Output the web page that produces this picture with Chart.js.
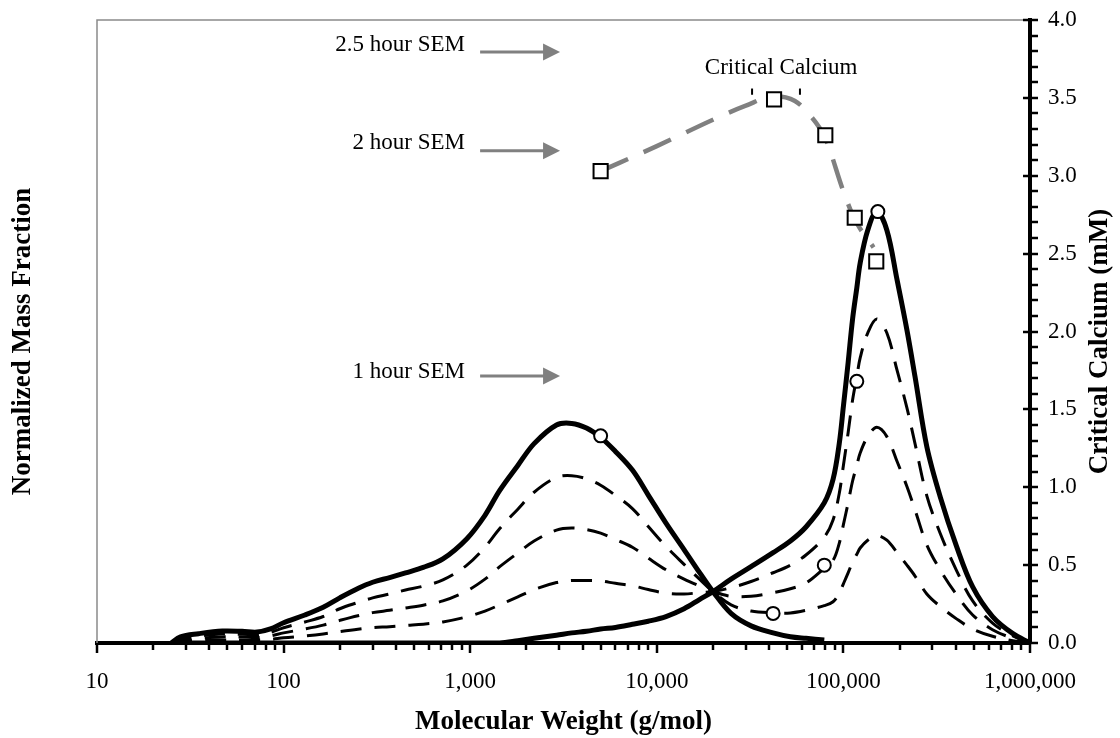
<!DOCTYPE html>
<html>
<head>
<meta charset="utf-8">
<script src="https://cdn.jsdelivr.net/npm/chart.js@4.4.1/dist/chart.umd.min.js"></script>
<style>
  html, body { margin: 0; padding: 0; background: #fff; }
  #wrap { width: 1120px; height: 738px; position: relative; }
</style>
</head>
<body>
<div id="wrap"><canvas id="chart"></canvas></div>
<script>
// molecular weight grid (g/mol)
const mw = [25, 28, 35, 47, 60, 72, 85, 100, 130, 163, 200, 250, 300, 370, 450, 560, 714, 960, 1200, 1440,
  1800, 2200, 2900, 3500, 4200, 5000, 6000, 7400, 9000, 11200, 14000, 17000, 20000, 25000, 32000, 42000,
  52000, 63000, 79000, 88000, 95000, 100000, 106000, 112000, 118000, 123000, 135000, 151000, 171000,
  194000, 219000, 242000, 280000, 330000, 404000, 493000, 630000, 810000, 1000000];

// normalized mass fraction - starting distribution (solid, low MW peak)
const massStart = [0, 0.04, 0.06, 0.077, 0.075, 0.07, 0.09, 0.13, 0.18, 0.23, 0.29, 0.35, 0.39, 0.42, 0.45, 0.485, 0.54, 0.67, 0.82, 0.98,
  1.14, 1.28, 1.40, 1.41, 1.38, 1.32, 1.23, 1.11, 0.95, 0.77, 0.60, 0.45, 0.33, 0.19, 0.11, 0.065,
  0.04, 0.03, 0.02, null, null, null, null, null, null, null, null, null, null,
  null, null, null, null, null, null, null, null, null, null];

// final distribution (solid, high MW peak)
const massEnd = [0, 0, 0, 0, 0, 0, 0, 0, 0, 0, 0, 0, 0, 0, 0, 0, 0, 0, 0, 0,
  0.015, 0.03, 0.05, 0.065, 0.075, 0.09, 0.10, 0.12, 0.14, 0.17, 0.22, 0.28, 0.33, 0.41, 0.49, 0.58,
  0.655, 0.745, 0.90, 1.05, 1.28, 1.52, 1.80, 2.08, 2.28, 2.44, 2.65, 2.77, 2.65,
  2.33, 2.01, 1.71, 1.26, 0.94, 0.62, 0.36, 0.17, 0.06, 0];

// intermediate distributions (dashed)
const massT1 = [0, 0.03, 0.045, 0.058, 0.056, 0.053, 0.068, 0.098, 0.135, 0.17, 0.22, 0.26, 0.29, 0.315, 0.34, 0.365, 0.405, 0.50, 0.615, 0.735,
  0.859, 0.968, 1.063, 1.074, 1.054, 1.013, 0.948, 0.863, 0.748, 0.62, 0.505, 0.408, 0.33, 0.245, 0.205, 0.194,
  0.193, 0.21, 0.24, 0.265, 0.32, 0.38, 0.45, 0.52, 0.57, 0.61, 0.66, 0.69, 0.66,
  0.58, 0.50, 0.43, 0.315, 0.235, 0.155, 0.09, 0.043, 0.015, 0];
const massT2 = [0, 0.02, 0.03, 0.039, 0.038, 0.035, 0.045, 0.065, 0.09, 0.115, 0.145, 0.175, 0.195, 0.21, 0.225, 0.243, 0.27, 0.335, 0.41, 0.49,
  0.578, 0.655, 0.725, 0.738, 0.728, 0.705, 0.665, 0.615, 0.545, 0.47, 0.41, 0.365, 0.33, 0.30, 0.30, 0.323,
  0.348, 0.385, 0.48, 0.53, 0.64, 0.76, 0.90, 1.04, 1.14, 1.22, 1.325, 1.385, 1.325,
  1.165, 1.005, 0.855, 0.63, 0.47, 0.31, 0.18, 0.085, 0.03, 0];
const massT3 = [0, 0.01, 0.015, 0.019, 0.019, 0.018, 0.023, 0.033, 0.045, 0.058, 0.073, 0.088, 0.098, 0.105, 0.113, 0.121, 0.135, 0.168, 0.205, 0.245,
  0.296, 0.343, 0.388, 0.401, 0.401, 0.398, 0.383, 0.368, 0.343, 0.32, 0.315, 0.323, 0.33, 0.355, 0.395, 0.451,
  0.50, 0.565, 0.68, 0.79, 0.96, 1.14, 1.35, 1.56, 1.71, 1.83, 1.99, 2.08, 1.99,
  1.75, 1.51, 1.28, 0.945, 0.705, 0.465, 0.27, 0.128, 0.045, 0];

// sampled points (circles)
const sampleMw = [5000, 42000, 79000, 118000, 153000];
const sampleMass = [1.33, 0.19, 0.50, 1.68, 2.77];

// critical calcium (mM), squares and fitted dashed line
const calciumMw = [5000, 42500, 80000, 115000, 150000];
const calciumVal = [3.03, 3.49, 3.26, 2.73, 2.45];
const calciumFitMw = [5000, 10000, 20000, 30000, 42500, 55000, 65000, 80000, 100000, 115000, 145000];
const calciumFit = [3.03, 3.19, 3.36, 3.45, 3.51, 3.48, 3.40, 3.24, 2.90, 2.72, 2.54];

// error bar caps on the top calcium point
const capMw = [32400, 58500];
const capRange = [3.52, 3.56];

// SEM annotations
const semText = ['2.5 hour SEM', '2 hour SEM', '1 hour SEM'];
const semTextY = [3.84, 3.21, 1.74];
const semArrowY = [3.795, 3.16, 1.714];
const semTextEnd = 937, semArrowFrom = 1130, semArrowTo = 3030;

const SERIF = '"Liberation Serif", "Times New Roman", serif';

const pts = (xs, ys) => xs.map((x, i) => ({ x, y: ys[i] }));

const isDecade = v => {
  const l = Math.log10(v);
  return Math.abs(l - Math.round(l)) < 1e-9;
};

const decor = {
  id: 'decor',
  beforeDatasetsDraw(chart) {
    const { ctx, chartArea: a } = chart;
    ctx.save();
    ctx.strokeStyle = '#8a8a8a';
    ctx.lineWidth = 1.5;
    ctx.beginPath();
    ctx.moveTo(a.left, a.bottom);
    ctx.lineTo(a.left, a.top);
    ctx.lineTo(a.right, a.top);
    ctx.stroke();
    ctx.restore();
  },
  afterDraw(chart) {
    const { ctx, chartArea: a } = chart;
    const xs = chart.scales.x, ys = chart.scales.y;
    ctx.save();
    ctx.strokeStyle = '#000';
    ctx.lineWidth = 2.5;
    // x axis tick marks
    xs.ticks.forEach(t => {
      const e = Math.floor(Math.log10(t.value) + 1e-9);
      const s = t.value / Math.pow(10, e);
      if (Math.abs(s - Math.round(s)) > 1e-6) return;
      const px = Math.round(xs.getPixelForValue(t.value));
      const major = isDecade(t.value);
      ctx.beginPath();
      ctx.moveTo(px, a.bottom);
      ctx.lineTo(px, a.bottom + (major ? 10 : 7));
      ctx.stroke();
    });
    // y axis tick marks
    ys.ticks.forEach(t => {
      const py = Math.round(ys.getPixelForValue(t.value));
      const major = Math.abs(t.value * 2 - Math.round(t.value * 2)) < 1e-6;
      ctx.beginPath();
      ctx.moveTo(a.right - (major ? 7 : 0), py);
      ctx.lineTo(a.right + 8, py);
      ctx.stroke();
    });

    // SEM labels and arrows
    ctx.font = '23px ' + SERIF;
    ctx.textAlign = 'right';
    ctx.textBaseline = 'middle';
    semText.forEach((txt, i) => {
      ctx.fillStyle = '#000';
      ctx.fillText(txt, xs.getPixelForValue(semTextEnd), ys.getPixelForValue(semTextY[i]));
      const y = ys.getPixelForValue(semArrowY[i]);
      const x0 = xs.getPixelForValue(semArrowFrom), x1 = xs.getPixelForValue(semArrowTo);
      ctx.strokeStyle = '#808080';
      ctx.fillStyle = '#808080';
      ctx.lineWidth = 3;
      ctx.beginPath();
      ctx.moveTo(x0, y);
      ctx.lineTo(x1 - 16, y);
      ctx.stroke();
      ctx.beginPath();
      ctx.moveTo(x1, y);
      ctx.lineTo(x1 - 17, y - 8.5);
      ctx.lineTo(x1 - 17, y + 8.5);
      ctx.closePath();
      ctx.fill();
    });
    ctx.fillStyle = '#000';
    ctx.textAlign = 'center';
    ctx.fillText('Critical Calcium', xs.getPixelForValue(46400), ys.getPixelForValue(3.69));

    // vertical axis titles
    ctx.font = 'bold 27px ' + SERIF;
    const midY = (a.top + a.bottom) / 2 + 10;
    [[23, 'Normalized Mass Fraction'], [chart.width - 20, 'Critical Calcium (mM)']].forEach(([x, txt]) => {
      ctx.save();
      ctx.translate(x, midY);
      ctx.rotate(-Math.PI / 2);
      ctx.fillText(txt, 0, 0);
      ctx.restore();
    });
    ctx.restore();
  }
};

const dashed = (data) => ({
  data,
  borderColor: '#000',
  borderWidth: 3,
  borderDash: [21, 13],
  pointRadius: 0,
  tension: 0.35
});

new Chart(document.getElementById('chart'), {
  type: 'line',
  data: {
    datasets: [
      {
        data: pts(sampleMw, sampleMass),
        showLine: false,
        pointRadius: 6.5,
        pointBorderWidth: 2,
        pointBorderColor: '#000',
        pointBackgroundColor: '#fff'
      },
      {
        data: pts(calciumMw, calciumVal),
        showLine: false,
        pointStyle: 'rect',
        pointRadius: 10,
        pointBorderWidth: 2,
        pointBorderColor: '#000',
        pointBackgroundColor: '#fff'
      },
      {
        data: pts(calciumFitMw, calciumFit),
        borderColor: '#808080',
        borderWidth: 4.5,
        borderDash: [30, 17],
        pointRadius: 0,
        cubicInterpolationMode: 'monotone'
      },
      { data: pts([capMw[0], capMw[0]], capRange), borderColor: '#000', borderWidth: 2, pointRadius: 0 },
      { data: pts([capMw[1], capMw[1]], capRange), borderColor: '#000', borderWidth: 2, pointRadius: 0 },
      {
        data: pts(mw, massStart),
        borderColor: '#000',
        borderWidth: 5,
        pointRadius: 0,
        tension: 0.35
      },
      {
        data: pts(mw, massEnd),
        borderColor: '#000',
        borderWidth: 5,
        pointRadius: 0,
        tension: 0.35
      },
      dashed(pts(mw, massT1)),
      dashed(pts(mw, massT2)),
      dashed(pts(mw, massT3))
    ]
  },
  options: {
    responsive: true,
    maintainAspectRatio: false,
    animation: false,
    layout: { padding: { left: 97, top: 20, right: 0, bottom: 0 } },
    plugins: { legend: { display: false }, tooltip: { enabled: false } },
    scales: {
      x: {
        type: 'logarithmic',
        position: 'bottom',
        min: 10,
        max: 1000000,
        grid: { display: false },
        border: { display: true, color: '#000', width: 4 },
        ticks: {
          autoSkip: false,
          maxRotation: 0,
          padding: 17,
          color: '#000',
          font: { family: SERIF, size: 23 },
          callback: v => isDecade(v) ? Number(v).toLocaleString('en-US') : ''
        },
        title: {
          display: true,
          text: 'Molecular Weight (g/mol)',
          color: '#000',
          font: { family: SERIF, size: 27, weight: 'bold' },
          padding: { top: 0, bottom: 0 }
        },
        afterFit: s => { s.height = 95; s.paddingLeft = 0; s.paddingRight = 0; }
      },
      y: {
        type: 'linear',
        position: 'right',
        min: 0,
        max: 4,
        grid: { display: false },
        border: { display: true, color: '#000', width: 4 },
        ticks: {
          stepSize: 0.1,
          maxTicksLimit: 50,
          autoSkip: false,
          padding: 10,
          color: '#000',
          font: { family: SERIF, size: 23 },
          callback: v => Math.abs(v * 2 - Math.round(v * 2)) < 1e-6 ? v.toFixed(1) : ''
        },
        afterFit: s => { s.width = 90; s.paddingTop = 0; s.paddingBottom = 0; }
      }
    }
  },
  plugins: [decor]
});
</script>
</body>
</html>
